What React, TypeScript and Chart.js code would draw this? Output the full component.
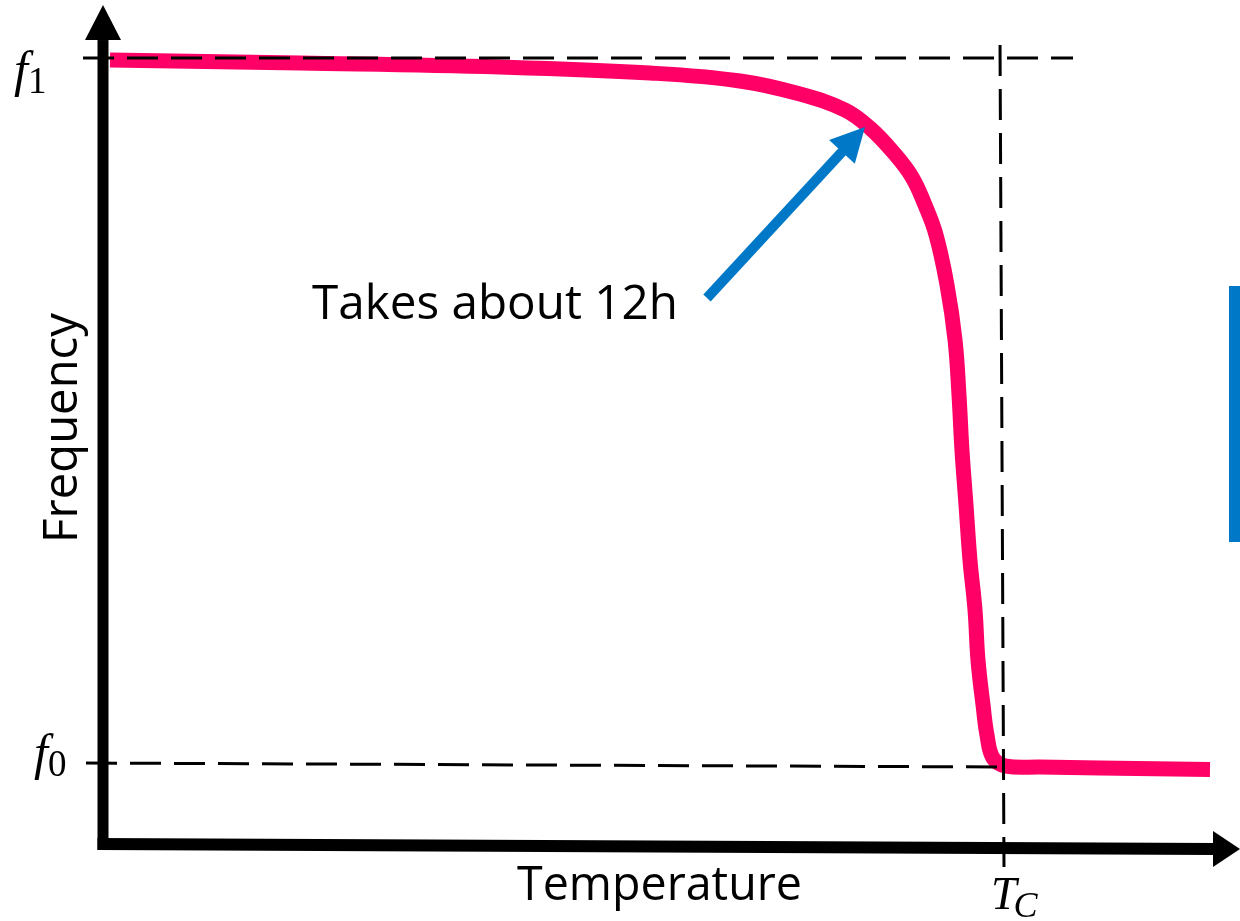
import { useEffect, useRef } from "react";
import { Chart, registerables } from "chart.js";

Chart.register(...registerables);

// Normalised units: temperature 0 = axis origin, 1 = T_C ; frequency 0 = f0, 1 = f1
const temperature = [0.0078, 0.2189, 0.4411, 0.6078, 0.7078, 0.7744, 0.8244, 0.8522, 0.8778, 0.8989, 0.9133, 0.9256, 0.9378, 0.9467, 0.9511, 0.9544, 0.9589, 0.9633, 0.9689, 0.9722, 0.9778, 0.9822, 0.9889, 1.0033, 1.0411, 1.1078, 1.23];
const frequency = [0.9972, 0.9929, 0.9872, 0.9787, 0.9674, 0.9489, 0.9262, 0.9007, 0.8667, 0.8312, 0.7915, 0.7489, 0.678, 0.6, 0.522, 0.444, 0.366, 0.2879, 0.217, 0.1461, 0.0823, 0.0397, 0.0071, -0.0043, -0.0057, -0.0071, -0.0092];

const f1GuideT = [-0.0222, 1.0778];
const f1GuideF = [1.0, 1.0];
const f0GuideT = [-0.0189, 0.9967];
const f0GuideF = [0.0, -0.0057];
const tcGuideT = [0.9967, 1.0011];
const tcGuideF = [1.0184, -0.1475];

const annotationText = "Takes about 12h";
const annotationTail = { t: 0.6711, f: 0.6596 };
const annotationTip = { t: 0.8467, f: 0.9021 };

const xTitle = "Temperature";
const yTitle = "Frequency";

const X_MIN = -0.114444;
const X_MAX = 1.263333;
const Y_MIN = -0.224113;
const Y_MAX = 1.082269;

const PINK = "#FF0066";
const BLUE = "#0078C8";
const SANS = '"Open Sans", "Noto Sans", sans-serif';
const SERIF = '"Liberation Serif", "DejaVu Serif", serif';

const pts = (xs: number[], ys: number[]) => xs.map((x, i) => ({ x, y: ys[i] }));

function fitFont(ctx: CanvasRenderingContext2D, text: string, width: number, family: string) {
  ctx.font = `100px ${family}`;
  const w = ctx.measureText(text).width;
  return (100 * width) / w;
}

const decorPlugin = {
  id: "decor",
  afterDatasetsDraw(chart: any) {
    const ctx: CanvasRenderingContext2D = chart.ctx;
    const xs = chart.scales.x;
    const ys = chart.scales.y;
    const px = (t: number) => xs.getPixelForValue(t);
    const py = (f: number) => ys.getPixelForValue(f);
    ctx.save();

    // vertical axis with arrow
    const ax = px(0);
    ctx.fillStyle = "#000";
    ctx.fillRect(ax - 5.5, py(1.0255), 11, py(-0.1234) - py(1.0255));
    ctx.beginPath();
    ctx.moveTo(ax, py(1.0752));
    ctx.lineTo(ax - 18, py(1.0255));
    ctx.lineTo(ax + 18, py(1.0255));
    ctx.closePath();
    ctx.fill();

    // horizontal axis with arrow
    ctx.strokeStyle = "#000";
    ctx.lineWidth = 12;
    ctx.lineCap = "butt";
    ctx.beginPath();
    ctx.moveTo(px(-0.0061), py(-0.1149));
    ctx.lineTo(px(1.2344), py(-0.122));
    ctx.stroke();
    ctx.beginPath();
    ctx.moveTo(px(X_MAX), py(-0.122));
    ctx.lineTo(px(1.2333), py(-0.122) - 18);
    ctx.lineTo(px(1.2333), py(-0.122) + 18);
    ctx.closePath();
    ctx.fill();

    // annotation arrow
    const x0 = px(annotationTail.t), y0 = py(annotationTail.f);
    const x1 = px(annotationTip.t), y1 = py(annotationTip.f);
    const ang = Math.atan2(y1 - y0, x1 - x0);
    const headLen = 34, headHalf = 17.5;
    const bx = x1 - headLen * Math.cos(ang), by = y1 - headLen * Math.sin(ang);
    ctx.strokeStyle = BLUE;
    ctx.fillStyle = BLUE;
    ctx.lineWidth = 10;
    ctx.beginPath();
    ctx.moveTo(x0, y0);
    ctx.lineTo(bx + 2 * Math.cos(ang), by + 2 * Math.sin(ang));
    ctx.stroke();
    ctx.beginPath();
    ctx.moveTo(x1, y1);
    ctx.lineTo(bx + headHalf * Math.sin(ang), by - headHalf * Math.cos(ang));
    ctx.lineTo(bx - headHalf * Math.sin(ang), by + headHalf * Math.cos(ang));
    ctx.closePath();
    ctx.fill();

    // blue bar at right edge
    ctx.fillRect(1229, 286, 12, 256);

    // texts
    ctx.fillStyle = "#000";
    ctx.textBaseline = "alphabetic";
    ctx.textAlign = "left";
    let s = fitFont(ctx, annotationText, 366, SANS);
    ctx.font = `${s}px ${SANS}`;
    ctx.fillText(annotationText, 312, 319);

    s = fitFont(ctx, xTitle, 285, SANS);
    ctx.font = `${s}px ${SANS}`;
    ctx.fillText(xTitle, 517, 900);

    s = fitFont(ctx, yTitle, 230, SANS);
    ctx.save();
    ctx.translate(77, 543);
    ctx.rotate(-Math.PI / 2);
    ctx.font = `${s}px ${SANS}`;
    ctx.fillText(yTitle, 0, 0);
    ctx.restore();

    // math labels
    const mathLabel = (main: string, sub: string, x: number, base: number, size: number, subSize: number, subItalic: boolean, subDx: number, subDy: number) => {
      ctx.font = `italic ${size}px ${SERIF}`;
      ctx.fillText(main, x, base);
      const w = ctx.measureText(main).width;
      ctx.font = `${subItalic ? "italic " : ""}${subSize}px ${SERIF}`;
      ctx.fillText(sub, x + w + subDx, base + subDy);
    };
    mathLabel("f", "1", 14, py(1) + 28, 50, 37, false, 0, 7);
    mathLabel("f", "0", 34, py(0) + 6, 50, 37, false, 0, 7);
    mathLabel("T", "C", 991, 909, 46, 36, true, -3, 8);

    ctx.restore();
  },
};

export default function App() {
  const ref = useRef<HTMLCanvasElement | null>(null);
  useEffect(() => {
    if (!ref.current) return;
    const dash = [31, 13];
    const chart = new Chart(ref.current, {
      type: "scatter",
      data: {
        datasets: [
          { data: pts(f1GuideT, f1GuideF), showLine: true, borderColor: "#000", borderWidth: 3, borderDash: dash, pointRadius: 0, order: 0 },
          { data: pts(f0GuideT, f0GuideF), showLine: true, borderColor: "#000", borderWidth: 3, borderDash: dash, pointRadius: 0, order: 0 },
          { data: pts(tcGuideT, tcGuideF), showLine: true, borderColor: "#000", borderWidth: 3, borderDash: dash, pointRadius: 0, order: 0 },
          {
            data: pts(temperature, frequency),
            showLine: true,
            borderColor: PINK,
            borderWidth: 15,
            tension: 0.4,
            borderJoinStyle: "round",
            pointRadius: 0,
            order: 1,
          },
        ],
      },
      options: {
        animation: false,
        responsive: false,
        maintainAspectRatio: false,
        layout: { padding: 0 },
        plugins: { legend: { display: false }, tooltip: { enabled: false } },
        scales: {
          x: { type: "linear", min: X_MIN, max: X_MAX, display: false },
          y: { type: "linear", min: Y_MIN, max: Y_MAX, display: false },
        },
      },
      plugins: [decorPlugin],
    } as any);
    return () => chart.destroy();
  }, []);
  return (
    <div style={{ position: "absolute", left: 0, top: 0, width: 1240, height: 921, background: "#fff" }}>
      <canvas ref={ref} width={1240} height={921} style={{ width: 1240, height: 921, display: "block" }} />
    </div>
  );
}
